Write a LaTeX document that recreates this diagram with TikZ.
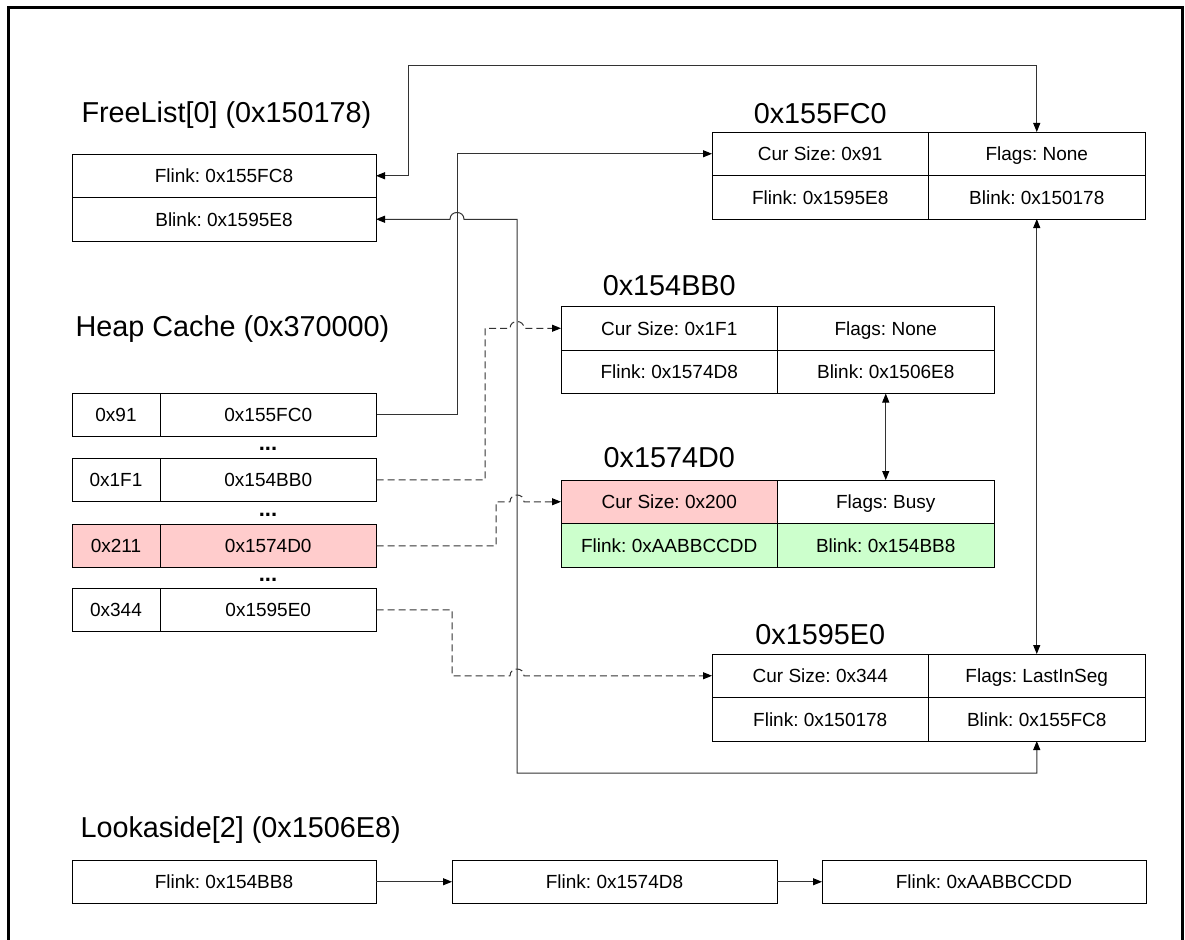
\documentclass[tikz,border=0pt]{standalone}
\usepackage{fontspec}
\setmainfont{Liberation Sans}
\usetikzlibrary{arrows.meta,calc}
\definecolor{busy}{HTML}{FFCCCC}
\definecolor{smashed}{HTML}{CCFFCC}
\definecolor{wire}{HTML}{333333}
\newcommand{\cellfont}{\fontsize{19}{23}\selectfont}
\newcommand{\headfont}{\fontsize{28.8}{34}\selectfont}
% small jump where a line passes over another one
\newcommand{\hopover}[1]{-- ($(#1)+(-7,0)$) .. controls ($(#1)+(-7,-9)$) and ($(#1)+(7,-9)$) .. ($(#1)+(7,0)$)}
\frenchspacing

\begin{document}
\begin{tikzpicture}[x=1pt, y=-1pt, line width=1pt,
    cell/.style={draw, inner sep=0pt, outer sep=0pt, minimum height=43.5pt,
      minimum width=216.5pt, text height=15pt, text depth=1.4pt,
      font=\cellfont, anchor=north west},
    key/.style={cell, minimum width=88pt},
    wide/.style={cell, minimum width=304pt},
    head/.style={font=\headfont, inner sep=0pt},
    dots/.style={font=\fontsize{22}{26}\selectfont\bfseries, inner sep=0pt, anchor=base},
    link/.style={draw=wire, line width=1pt, >={Triangle[length=9pt,width=7pt,color=black]}},
    weak/.style={link, dash pattern=on 7pt off 4pt}]

  \useasboundingbox (0,0) rectangle (1185,939);
  \draw[line width=3pt] (8,950) -- (8,8) -- (1182,8) -- (1182,950);

  % free list head
  \node[head, anchor=base west] (fl-title) at (81,122) {FreeList[0] (0x150178)};
  \node[wide] (fl-flink) at (72,154) {Flink: 0x155FC8};
  \node[wide, anchor=north] (fl-blink) at (fl-flink.south) {Blink: 0x1595E8};

  % heap cache
  \node[head, anchor=base west] (hc-title) at (75,336) {Heap Cache (0x370000)};
  \foreach \i/\y/\sz/\addr/\c in {1/393/0x91/0x155FC0/white, 2/458/0x1F1/0x154BB0/white,
      3/524/0x211/0x1574D0/busy, 4/588/0x344/0x1595E0/white}{
    \node[key, fill=\c] (hc\i-k) at (72,\y) {\sz};
    \node[cell, fill=\c] (hc\i-v) at (hc\i-k.north east) {\addr};
  }
  \foreach \y [count=\j] in {450,516,581}
    \node[dots] (gap\j) at (268,\y) {...};

  % chunks
  \foreach \id/\t/\x/\y/\sz/\fl/\fk/\bk/\ca/\cb/\gap in {
      fc/0x155FC0/712/132/0x91/None/0x1595E8/0x150178/white/white/8,
      bb/0x154BB0/561/306.5/0x1F1/None/0x1574D8/0x1506E8/white/white/11,
      d0/0x1574D0/561/480/0x200/Busy/0xAABBCCDD/0x154BB8/busy/smashed/13,
      e0/0x1595E0/712/654/0x344/LastInSeg/0x150178/0x155FC8/white/white/10}{
    \node[cell, fill=\ca] (\id-size) at (\x,\y) {Cur Size: \sz};
    \node[cell] (\id-flags) at (\id-size.north east) {Flags: \fl};
    \node[cell, fill=\cb] (\id-flink) at (\id-size.south west) {Flink: \fk};
    \node[cell, fill=\cb] (\id-blink) at (\id-flink.north east) {Blink: \bk};
    \node[head, anchor=base] (\id-title) at ($(\id-size.north)+(0,-\gap)$) {\t};
  }

  % lookaside list
  \node[head, anchor=base west] (la-title) at (80,837) {Lookaside[2] (0x1506E8)};
  \node[wide] (la1) at (72,860) {Flink: 0x154BB8};
  \node[cell, minimum width=325pt] (la2) at (452,860) {Flink: 0x1574D8};
  \node[cell, minimum width=324pt] (la3) at (822,860) {Flink: 0xAABBCCDD};
  \draw[link,->] (la1) -- (la2);
  \draw[link,->] (la2) -- (la3);

  % routing lanes
  \coordinate (top) at (0,66);
  \coordinate (bot) at (0,773);
  \coordinate (colA) at (408,0);
  \coordinate (colB) at (457,0);
  \coordinate (colC) at (517,0);
  \coordinate (colD) at (485,0);
  \coordinate (colE) at (496,0);
  \coordinate (colF) at (452,0);
  \coordinate (h1) at (colB |- fl-blink.east);
  \coordinate (h4) at (colC |- bb-size.west);
  \coordinate (h5) at (colC |- d0-size.west);
  \coordinate (h6) at (colC |- e0-size.west);

  \draw[link,<->] (fl-flink.east) -| (colA |- top) -| (fc-flags.north);
  \draw[link,->] (hc1-v.east) -| (colB |- fc-size.west) -- (fc-size.west);
  \draw[link,<->] (fl-blink.east) \hopover{h1} -| (colC |- bot) -| (e0-blink.south);
  \draw[link,<->] (bb-blink.south) -- (d0-flags.north);
  \draw[link,<->] (fc-blink.south) -- (e0-flags.north);

  \draw[weak,->] (hc2-v.east) -| (colD |- bb-size.west) \hopover{h4} -- (bb-size.west);
  \draw[weak,->] (hc3-v.east) -| (colE |- d0-size.west) \hopover{h5} -- (d0-size.west);
  \draw[weak,->] (hc4-v.east) -| (colF |- e0-size.west) \hopover{h6} -- (e0-size.west);
\end{tikzpicture}
\end{document}
